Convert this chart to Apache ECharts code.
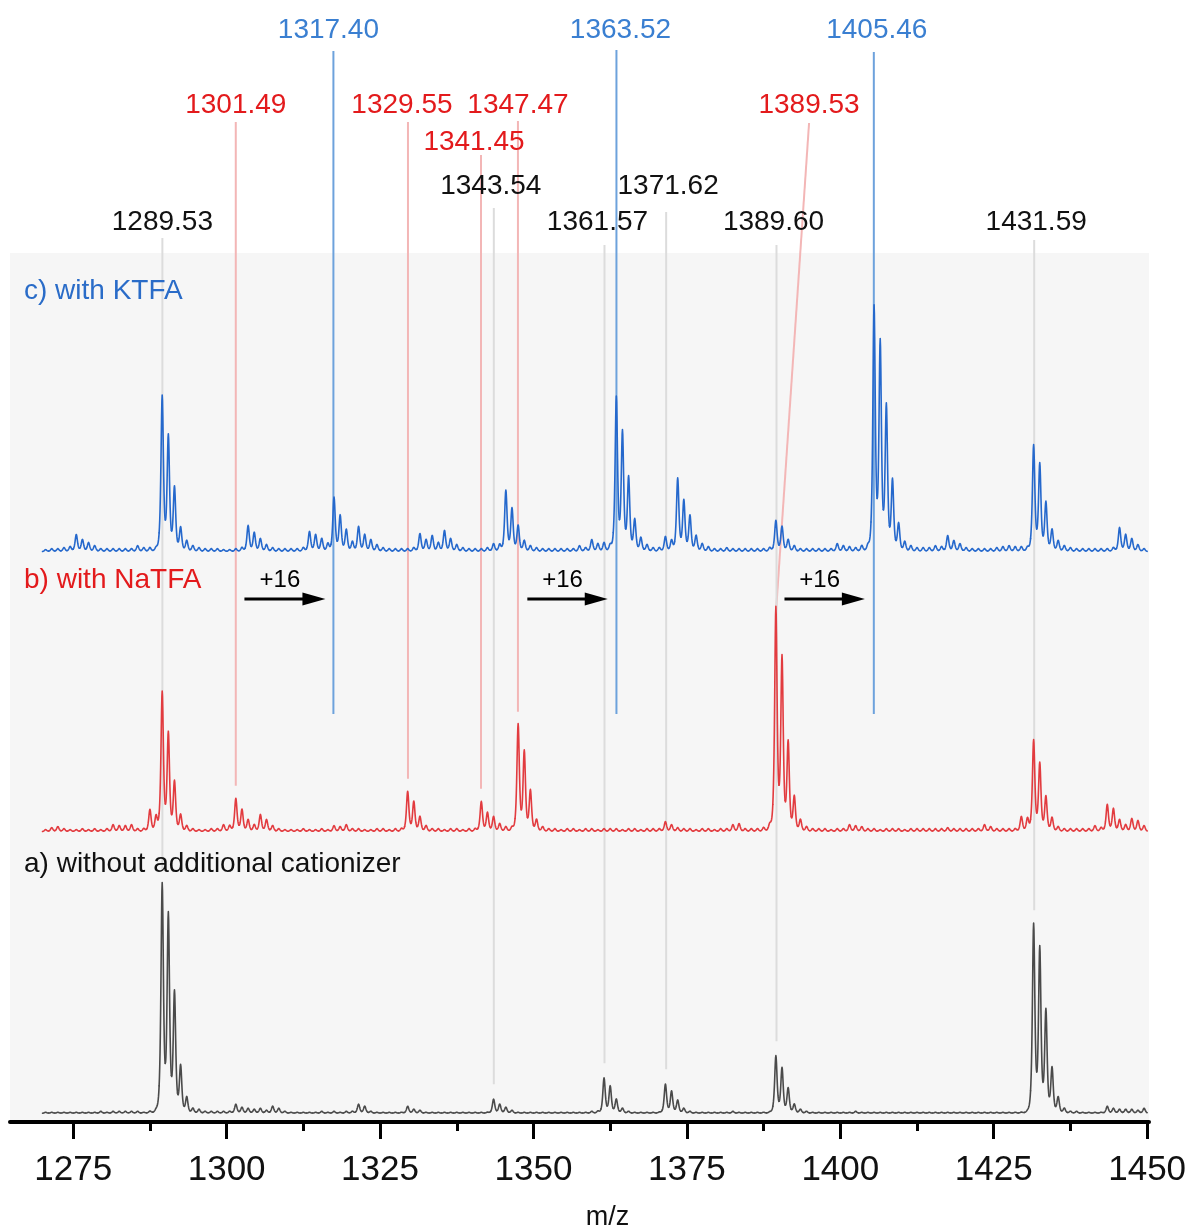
<!DOCTYPE html>
<html>
<head>
<meta charset="utf-8">
<script src="https://cdn.jsdelivr.net/npm/echarts@6/dist/echarts.min.js"></script>
<style>
html,body{margin:0;padding:0;background:#fff;}
#chart{width:1192px;height:1230px;}
</style>
</head>
<body>
<div id="chart"></div>
<script>
// ---------------- DATA ----------------
// nominal peak positions (m/z), one per isotope/ripple position
const masses = [
1270.5,1271.5,1272.5,1273.5,1274.5,1275.5,1276.5,1277.5,1278.5,1279.5,
1280.5,1281.5,1282.5,1283.5,1284.5,1285.5,1286.5,1287.5,1288.5,1289.5,
1290.5,1291.5,1292.5,1293.5,1294.5,1295.5,1296.5,1297.5,1298.5,1299.5,
1300.5,1301.5,1302.5,1303.5,1304.5,1305.5,1306.5,1307.5,1308.5,1309.5,
1310.5,1311.5,1312.5,1313.5,1314.5,1315.5,1316.5,1317.5,1318.5,1319.5,
1320.5,1321.5,1322.5,1323.5,1324.5,1325.5,1326.5,1327.5,1328.5,1329.5,
1330.5,1331.5,1332.5,1333.5,1334.5,1335.5,1336.5,1337.5,1338.5,1339.5,
1340.5,1341.5,1342.5,1343.5,1344.5,1345.5,1346.5,1347.5,1348.5,1349.5,
1350.5,1351.5,1352.5,1353.5,1354.5,1355.5,1356.5,1357.5,1358.5,1359.5,
1360.5,1361.5,1362.5,1363.5,1364.5,1365.5,1366.5,1367.5,1368.5,1369.5,
1370.5,1371.5,1372.5,1373.5,1374.5,1375.5,1376.5,1377.5,1378.5,1379.5,
1380.5,1381.5,1382.5,1383.5,1384.5,1385.5,1386.5,1387.5,1388.5,1389.5,
1390.5,1391.5,1392.5,1393.5,1394.5,1395.5,1396.5,1397.5,1398.5,1399.5,
1400.5,1401.5,1402.5,1403.5,1404.5,1405.5,1406.5,1407.5,1408.5,1409.5,
1410.5,1411.5,1412.5,1413.5,1414.5,1415.5,1416.5,1417.5,1418.5,1419.5,
1420.5,1421.5,1422.5,1423.5,1424.5,1425.5,1426.5,1427.5,1428.5,1429.5,
1430.5,1431.5,1432.5,1433.5,1434.5,1435.5,1436.5,1437.5,1438.5,1439.5,
1440.5,1441.5,1442.5,1443.5,1444.5,1445.5,1446.5,1447.5,1448.5,1449.5
];

// c) with KTFA (intensity, a.u.)
const spectrumC = [
2,3,3,4,5,17,12,9,6,3,
3,3,3,3,3,6,4,4,3,155,
115,64,24,11,6,4,3,3,3,2,
2,3,4,26,19,13,7,4,3,3,
3,3,4,20,17,13,8,54,36,22,
10,25,17,12,7,4,3,3,3,3,
4,18,12,16,9,21,13,7,4,3,
3,3,4,8,7,61,43,26,11,6,
4,3,3,3,3,3,3,6,4,12,
8,9,6,154,119,74,32,14,7,4,
4,15,11,73,51,36,16,8,5,3,
3,4,3,3,3,3,3,3,4,31,
25,12,6,3,3,3,3,3,3,8,
6,5,4,6,5,244,208,145,71,28,
10,6,4,4,4,6,5,16,11,8,
4,3,3,3,3,4,5,6,5,5,
4,106,87,49,22,11,6,4,3,3,
3,3,3,3,4,24,17,13,7,3
];

// b) with NaTFA
const spectrumB = [
2,4,5,3,2,2,3,2,3,2,
3,7,6,6,7,3,3,22,15,139,
98,50,17,6,3,2,2,3,3,7,
6,33,22,12,7,17,12,6,3,2,
2,2,3,2,2,3,2,6,5,7,
3,3,2,2,3,3,2,3,3,40,
30,15,6,3,3,2,3,3,2,3,
3,30,19,15,8,5,4,107,80,41,
12,5,3,3,2,3,3,2,3,3,
2,3,3,3,2,3,3,2,3,3,
3,10,7,4,3,3,2,3,3,2,
3,3,7,8,3,3,3,4,6,223,
173,89,35,12,5,3,3,3,2,3,
3,7,6,5,3,3,2,3,3,3,
2,3,3,3,3,3,3,4,3,3,
3,3,3,7,5,3,3,3,3,15,
13,91,68,35,14,5,3,3,3,3,
3,6,4,27,23,12,7,13,11,6
];

// a) without additional cationizer
const spectrumA = [
1,1,1,1,1,1,1,1,1,2,
1,2,2,2,2,2,1,2,2,228,
197,120,47,16,5,4,2,2,2,2,
2,9,6,5,4,5,3,7,5,2,
1,1,1,1,1,2,1,2,1,2,
2,9,7,2,1,1,1,1,1,7,
4,3,1,1,1,1,1,1,1,1,
1,1,1,14,9,6,3,1,1,1,
1,1,1,1,1,1,1,1,1,2,
2,35,27,14,5,2,1,1,1,1,
1,29,22,13,5,2,1,1,1,1,
1,1,2,1,1,1,1,1,1,57,
45,25,9,4,2,1,1,1,1,1,
1,1,2,1,1,1,1,1,1,1,
1,1,1,1,1,1,1,1,1,1,
1,1,1,1,1,1,1,1,1,1,
1,188,164,102,45,16,5,2,2,1,
1,1,1,7,5,4,4,4,3,5
];

const xTicks = [1275,1300,1325,1350,1375,1400,1425,1450];
const xMinorTicks = [1287.5,1312.5,1337.5,1362.5,1387.5,1412.5,1437.5];

const panelLabels = ['c) with KTFA','b) with NaTFA','a) without additional cationizer'];

// annotated peaks: m/z and the spectrum they belong to
const annMz       = [1289.53,1301.49,1317.40,1329.55,1341.45,1343.54,1347.47,1361.57,1363.52,1371.62,1389.53,1389.60,1405.46,1431.59];
const annSpectrum = ['a','b','c','b','b','a','b','a','c','a','b','a','c','a'];

// +16 shifts (from -> to, m/z)
const shiftFrom  = [1302.9,1349.0,1390.9];
const shiftTo    = [1316.1,1362.1,1404.0];
const shiftLabel = ['+16','+16','+16'];

// ---------------- LAYOUT / STYLE ----------------
const FONT = '"Liberation Sans", Arial, Helvetica, sans-serif';
const annLabelY  = [222,105,30,105,142,186,105,222,30,186,105,222,30,222];
const annLabelDx = [0,0,-5,-6,-7,-3,0,-7,4,2,33,-3,3,2];
const annLineTop = [238,122,51,122,155,208,121,245,50,212,123,245,52,240];
const annSlanted = [false,false,false,false,false,false,false,false,false,false,true,false,false,false];
const BLUE_LINE_END = 714;
const ARROW_Y = 599;
const STYLE = {
  a: {spec:'#4a4a4a', text:'#111111', line:'#dcdcdc', gap:15, grid:3},
  b: {spec:'#e23b3f', text:'#e31a1c', line:'#f3b6b6', gap:13, grid:2},
  c: {spec:'#2568cc', text:'#3a7fd1', line:'#6da2dc', gap:0,  grid:1}
};
const GAMMA = 0.36;  // drawn peak width parameter (m/z)
const SHAPE_POW = 2;
const X_MIN = 1264.7, X_MAX = 1450.3;
const GL = 10, GR = 43;

function profileAt(x, ms, hs, i0) {
  let s = 0;
  const j0 = Math.max(0, i0 - 6), j1 = Math.min(ms.length - 1, i0 + 6);
  for (let j = j0; j <= j1; j++) {
    const d = (x - ms[j]) / GAMMA;
    s += hs[j] * Math.pow(1 + d * d, -SHAPE_POW);
  }
  return s;
}
function makeRender(hs, color) {
  return function (params, api) {
    const i = params.dataIndex;
    const m = api.value(0);
    const pts = [];
    for (let k = 0; k <= 20; k++) {
      const x = m - 0.5 + k * 0.05;
      pts.push(api.coord([x, profileAt(x, masses, hs, i)]));
    }
    return {
      type: 'polyline',
      shape: {points: pts},
      style: {stroke: color, lineWidth: 1.6, fill: null, lineJoin: 'round', lineCap: 'round'},
      silent: true
    };
  };
}
function specSeries(hs, color, xIdx, yIdx) {
  return {
    type: 'custom',
    xAxisIndex: xIdx, yAxisIndex: yIdx,
    data: masses.map((m, i) => [m, hs[i]]),
    encode: {x: 0, y: 1},
    renderItem: makeRender(hs, color),
    animation: false,
    silent: true,
    clip: false,
    z: 3
  };
}

const hiddenX = (g) => ({gridIndex: g, type: 'value', min: X_MIN, max: X_MAX, show: false});
const hiddenY = (g, max) => ({gridIndex: g, type: 'value', min: 0, max: max, show: false});
const gridBase = {left: GL, right: GR, containLabel: false, outerBoundsMode: 'none'};

const chart = echarts.init(document.getElementById('chart'), null, {renderer: 'canvas'});
const option = {
  animation: false,
  backgroundColor: '#ffffff',
  textStyle: {fontFamily: FONT},
  grid: [
    Object.assign({}, gridBase, {top: 253, bottom: 108, show: true, backgroundColor: '#f6f6f6', borderWidth: 0}),
    Object.assign({}, gridBase, {top: 291.7, height: 260}),
    Object.assign({}, gridBase, {top: 571.7, height: 260}),
    Object.assign({}, gridBase, {top: 853.3, height: 260})
  ],
  xAxis: [
    {
      gridIndex: 0, type: 'value', position: 'bottom', min: X_MIN, max: X_MAX,
      axisLine: {show: true, lineStyle: {color: '#000', width: 4}},
      axisTick: {show: true, customValues: xTicks, length: 17, lineStyle: {color: '#000', width: 3}},
      axisLabel: {show: true, customValues: xTicks, fontSize: 35, margin: 31, color: '#111', fontFamily: FONT,
                  formatter: (v) => String(v)},
      splitLine: {show: false},
      name: 'm/z', nameLocation: 'middle', nameGap: 82,
      nameTextStyle: {fontSize: 27, color: '#111', fontFamily: FONT, padding: [0, 0, 0, 56]}
    },
    {
      gridIndex: 0, type: 'value', position: 'bottom', min: X_MIN, max: X_MAX,
      axisLine: {show: false},
      axisTick: {show: true, customValues: xMinorTicks, length: 9, lineStyle: {color: '#000', width: 3}},
      axisLabel: {show: false},
      splitLine: {show: false}
    },
    hiddenX(1), hiddenX(2), hiddenX(3)
  ],
  yAxis: [hiddenY(0, 1), hiddenY(1, 260), hiddenY(2, 260), hiddenY(3, 260)],
  series: [
    specSeries(spectrumC, STYLE.c.spec, 2, 1),
    specSeries(spectrumB, STYLE.b.spec, 3, 2),
    specSeries(spectrumA, STYLE.a.spec, 4, 3)
  ]
};
chart.setOption(option);

// ---------------- ANNOTATIONS (through axis scales) ----------------
const specData = {a: spectrumA, b: spectrumB, c: spectrumC};
const xPx = (mz) => chart.convertToPixel({gridIndex: 0}, [mz, 0])[0];
function apexPx(group, mz) {
  const hs = specData[group];
  let best = 0;
  for (let i = 1; i < masses.length; i++) {
    if (Math.abs(masses[i] - mz) < Math.abs(masses[best] - mz)) best = i;
  }
  return chart.convertToPixel({gridIndex: STYLE[group].grid}, [masses[best], hs[best]])[1];
}

const graphics = [];
annMz.forEach((mz, k) => {
  const g = annSpectrum[k];
  const st = STYLE[g];
  const x = xPx(mz);
  let yEnd;
  if (g === 'c') yEnd = BLUE_LINE_END;
  else if (annSlanted[k]) yEnd = apexPx(g, mz) + 2;
  else yEnd = apexPx(g, mz) - st.gap;
  const xTop = annSlanted[k] ? x + annLabelDx[k] : x;
  graphics.push({
    type: 'line', z: 1, silent: true,
    shape: {x1: xTop, y1: annLineTop[k], x2: x, y2: yEnd},
    style: {stroke: st.line, lineWidth: 2}
  });
  graphics.push({
    type: 'text', z: 10, silent: true,
    x: x + annLabelDx[k], y: annLabelY[k],
    style: {text: mz.toFixed(2), fill: st.text, font: '28px ' + FONT, textAlign: 'center', textVerticalAlign: 'middle'}
  });
});

shiftFrom.forEach((f, k) => {
  const x1 = xPx(f), x2 = xPx(shiftTo[k]);
  graphics.push({
    type: 'line', z: 10, silent: true,
    shape: {x1: x1, y1: ARROW_Y, x2: x2 - 18, y2: ARROW_Y},
    style: {stroke: '#000', lineWidth: 3}
  });
  graphics.push({
    type: 'polygon', z: 10, silent: true,
    shape: {points: [[x2, ARROW_Y], [x2 - 23, ARROW_Y - 6.5], [x2 - 23, ARROW_Y + 6.5]]},
    style: {fill: '#000'}
  });
  graphics.push({
    type: 'text', z: 10, silent: true,
    x: (x1 + x2) / 2 - 5, y: ARROW_Y - 19,
    style: {text: shiftLabel[k], fill: '#000', font: '24px ' + FONT, textAlign: 'center', textVerticalAlign: 'middle'}
  });
});

const panelY = [291, 580, 864];
const panelColor = ['#2a6cc8', STYLE.b.text, STYLE.a.text];
panelLabels.forEach((t, k) => {
  graphics.push({
    type: 'text', z: 10, silent: true,
    x: 24, y: panelY[k],
    style: {text: t, fill: panelColor[k], font: '28px ' + FONT, textAlign: 'left', textVerticalAlign: 'middle'}
  });
});

chart.setOption({graphic: {elements: graphics}});
</script>
</body>
</html>
